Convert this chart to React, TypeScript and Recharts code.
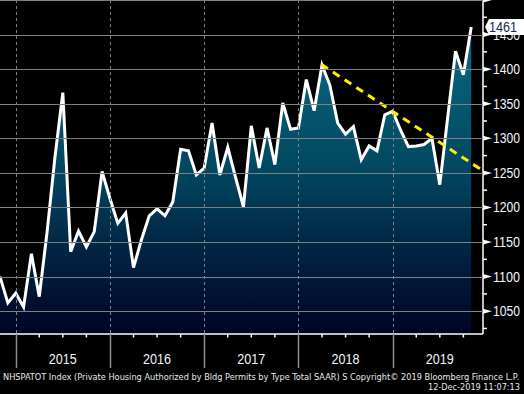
import { ComposedChart, Area, Line, XAxis, YAxis, ReferenceLine } from 'recharts'

// monthly building permits, Oct 2014 .. Oct 2019 (thousands, SAAR)
const months = [
  'Oct-14', 'Nov-14', 'Dec-14',
  'Jan-15', 'Feb-15', 'Mar-15', 'Apr-15', 'May-15', 'Jun-15', 'Jul-15', 'Aug-15', 'Sep-15', 'Oct-15', 'Nov-15', 'Dec-15',
  'Jan-16', 'Feb-16', 'Mar-16', 'Apr-16', 'May-16', 'Jun-16', 'Jul-16', 'Aug-16', 'Sep-16', 'Oct-16', 'Nov-16', 'Dec-16',
  'Jan-17', 'Feb-17', 'Mar-17', 'Apr-17', 'May-17', 'Jun-17', 'Jul-17', 'Aug-17', 'Sep-17', 'Oct-17', 'Nov-17', 'Dec-17',
  'Jan-18', 'Feb-18', 'Mar-18', 'Apr-18', 'May-18', 'Jun-18', 'Jul-18', 'Aug-18', 'Sep-18', 'Oct-18', 'Nov-18', 'Dec-18',
  'Jan-19', 'Feb-19', 'Mar-19', 'Apr-19', 'May-19', 'Jun-19', 'Jul-19', 'Aug-19', 'Sep-19', 'Oct-19',
]

const permits = [
  1100, 1062, 1076,
  1056, 1133, 1071, 1165, 1273, 1366, 1136, 1166, 1143, 1165, 1252, 1213,
  1177, 1192, 1113, 1153, 1188, 1198, 1188, 1208, 1284, 1282, 1247, 1257,
  1322, 1247, 1287, 1243, 1201, 1318, 1257, 1315, 1262, 1351, 1313, 1315,
  1385, 1340, 1406, 1377, 1322, 1306, 1317, 1269, 1289, 1282, 1334, 1339,
  1312, 1288, 1289, 1291, 1300, 1233, 1330, 1426, 1392, 1461,
]

// x positions are month indexes (0 = Oct 2014)
const quarterTicks = [2, 5, 8, 11, 14, 17, 20, 23, 26, 29, 32, 35, 38, 41, 44, 47, 50, 53, 56, 59]
const yearStarts = [2, 14, 26, 38, 50]
const yearLabels = ['2015', '2016', '2017', '2018', '2019']

const yTicks = [1025, 1050, 1075, 1100, 1125, 1150, 1175, 1200, 1225, 1250, 1275, 1300, 1325, 1350, 1375, 1400, 1425, 1450, 1475, 1500]

// hand drawn resistance line
const trend = [
  { x: 40.9, y: 1407 },
  { x: 61.5, y: 1253 },
]

const lastValue = permits[permits.length - 1]

const data = months.map((m, i) => ({ i, month: m, permits: permits[i] }))

const labelFont = '"Liberation Sans", Arial, sans-serif'
const footFont = '"DejaVu Sans Condensed", "DejaVu Sans", sans-serif'
const gridColor = '#808080'
const PLOT_TOP = 0
const PLOT_LEFT = 0

function XTick(props: any) {
  const { x, y, payload } = props
  const v = payload.value
  if (yearStarts.includes(v)) {
    const gx = Math.round(x) + 0.5
    return (
      <g>
        <line x1={gx} x2={gx} y1={PLOT_TOP} y2={y} stroke={gridColor} strokeWidth={1} strokeDasharray="3 3" />
        <line x1={gx} x2={gx} y1={y} y2={y + 34} stroke="#8c8c8c" strokeWidth={1.5} />
      </g>
    )
  }
  const yi = (v - 8) / 12
  return (
    <g>
      <line x1={x} x2={x} y1={y} y2={y + 3.5} stroke="#fff" strokeWidth={1.5} />
      {Number.isInteger(yi) && (
        <text x={x} y={y + 30} textAnchor="middle" fill="#f2f4f8" fontSize={14} fontFamily={labelFont}
          textLength={28} lengthAdjust="spacingAndGlyphs">
          {yearLabels[yi]}
        </text>
      )}
    </g>
  )
}

function YTick(props: any) {
  const { x, y, payload } = props
  const v = payload.value
  if (v === lastValue) {
    return (
      <g>
        <polygon
          points={`${x + 2},${y} ${x + 6},${y - 8} ${x + 42},${y - 8} ${x + 42},${y + 8} ${x + 6},${y + 8}`}
          fill="#fff"
        />
        <text x={x + 6} y={y + 5} fill="#142a4c" fontSize={14} fontFamily={labelFont}
          textLength={28} lengthAdjust="spacingAndGlyphs">
          {v}
        </text>
      </g>
    )
  }
  if (v % 50 === 0) {
    const gy = Math.round(y) + 0.5
    return (
      <g>
        <line x1={PLOT_LEFT} x2={x} y1={gy} y2={gy} stroke={gridColor} strokeWidth={1} />
        <polygon points={`${x},${y - 2.5} ${x + 9},${y} ${x},${y + 2.5}`} fill="#fff" />
        {v < 1500 && (
          <text x={x + 10} y={y + 5} fill="#f2f4f8" fontSize={14} fontFamily={labelFont}
            textLength={27} lengthAdjust="spacingAndGlyphs">
            {v}
          </text>
        )}
      </g>
    )
  }
  return <line x1={x} x2={x + 4} y1={y} y2={y} stroke="#fff" strokeWidth={1.5} />
}

export default function App() {
  return (
    <div style={{ position: 'fixed', left: 0, top: 0, width: 524, height: 394, background: '#000' }}>
      <ComposedChart width={524} height={394} data={data} margin={{ top: 0, right: 0, bottom: 26, left: 0 }}>
        <defs>
          <linearGradient id="bbgFill" x1="0" y1="0" x2="0" y2="334" gradientUnits="userSpaceOnUse">
            <stop offset="0%" stopColor="#0b7088" />
            <stop offset="50%" stopColor="#024862" />
            <stop offset="75%" stopColor="#012443" />
            <stop offset="100%" stopColor="#000426" />
          </linearGradient>
        </defs>
        <Area
          type="linear"
          dataKey="permits"
          stroke="none"
          fill="url(#bbgFill)"
          fillOpacity={1}
          dot={false}
          activeDot={false}
          isAnimationActive={false}
        />
        <XAxis
          type="number"
          dataKey="i"
          domain={[0, 61.5]}
          allowDataOverflow
          ticks={quarterTicks}
          interval={0}
          height={34}
          tickSize={0}
          tickMargin={0}
          tickLine={false}
          axisLine={{ stroke: '#fff', strokeWidth: 1.5 }}
          tick={<XTick />}
        />
        <YAxis
          orientation="right"
          type="number"
          domain={[1017, 1500]}
          allowDataOverflow
          ticks={[...yTicks, lastValue]}
          interval={0}
          width={41}
          tickSize={0}
          tickMargin={0}
          tickLine={false}
          axisLine={{ stroke: '#fff', strokeWidth: 1.5 }}
          tick={<YTick />}
        />
        <Line
          type="linear"
          dataKey="permits"
          stroke="#fff"
          strokeWidth={3}
          dot={false}
          activeDot={false}
          isAnimationActive={false}
        />
        <ReferenceLine
          segment={trend}
          stroke="#ffee00"
          strokeWidth={3}
          strokeDasharray="8 6"
          ifOverflow="visible"
        />
      </ComposedChart>
      <svg width={524} height={394} style={{ position: 'absolute', left: 0, top: 0, pointerEvents: 'none' }}>
        <text x={3} y={380} fill="#e8e8e8" fontSize={9} fontFamily={footFont}
          textLength={516} lengthAdjust="spacingAndGlyphs">
          NHSPATOT Index (Private Housing Authorized by Bldg Permits by Type Total SAAR) S Copyright© 2019 Bloomberg Finance L.P.
        </text>
        <text x={428} y={390} fill="#e8e8e8" fontSize={9} fontFamily={footFont}
          textLength={92} lengthAdjust="spacingAndGlyphs">
          12-Dec-2019 11:07:13
        </text>
      </svg>
    </div>
  )
}
